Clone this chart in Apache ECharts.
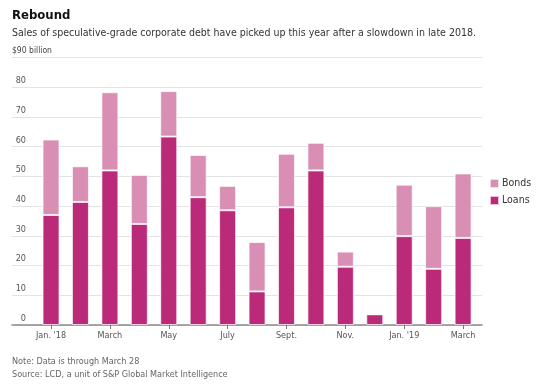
<!DOCTYPE html>
<html><head><meta charset="utf-8">
<script src="https://cdn.jsdelivr.net/npm/echarts@6/dist/echarts.min.js"></script>
<style>html,body{margin:0;padding:0;background:#fff}#c{width:550px;height:391px}</style>
</head><body><div id="c"></div>
<script>
const categories = ["Jan. '18","Feb","March","Apr","May","June","July","Aug","Sept.","Oct","Nov.","Dec","Jan. '19","Feb","March"];
const loans = [37, 41.4, 52, 34, 63.4, 43, 38.6, 11.3, 39.6, 52, 19.6, 3.6, 29.9, 18.9, 29.3];
const bonds = [25.4, 12, 26.3, 16.5, 15.3, 14.2, 8.2, 16.6, 18, 9.3, 5.1, 0, 17.3, 21.1, 21.7];
const yTicks = [0, 10, 20, 30, 40, 50, 60, 70, 80];
const labeledIdx = [0, 2, 4, 6, 8, 10, 12, 14];

const F = "'Liberation Sans Narrow','DejaVu Sans Condensed','Liberation Sans',sans-serif";
const chart = echarts.init(document.getElementById('c'), null, {renderer:'canvas'});
const gTop = 57.5, gBottom = 66;
chart.setOption({
  animation:false,
  title:[
    {text:'Rebound', left:12, top:9, padding:0, textStyle:{fontFamily:F, fontSize:13, fontWeight:'bold', color:'#111'}},
    {text:'Sales of speculative-grade corporate debt have picked up this year after a slowdown in late 2018.', left:12, top:28, padding:0, textStyle:{fontFamily:F, fontSize:10.5, fontWeight:'normal', color:'#333'}},
    {text:'Note: Data is through March 28', left:12, top:357, padding:0, textStyle:{fontFamily:F, fontSize:9, fontWeight:'normal', color:'#666'}},
    {text:'Source: LCD, a unit of S&P Global Market Intelligence', left:12, top:370, padding:0, textStyle:{fontFamily:F, fontSize:9, fontWeight:'normal', color:'#666'}}
  ],
  legend:{
    data:['Bonds','Loans'], orient:'vertical', left:484, top:173, itemWidth:9, itemHeight:9, itemGap:6,
    icon:'rect', textStyle:{fontFamily:F, fontSize:10.5, color:'#333', padding:[0,0,0,-2]}
  },
  grid:[
    {left:12, right:68, top:gTop, bottom:gBottom},
    {left:36.3, right:72.2, top:gTop, bottom:gBottom}
  ],
  xAxis:[
    {gridIndex:0, type:'value', min:0, max:1, axisLine:{show:true, lineStyle:{color:'#8a8a8a', width:1.5}}, axisTick:{show:false}, axisLabel:{show:false}, splitLine:{show:false}},
    {gridIndex:1, type:'category', data:categories, axisLine:{show:false},
     axisTick:{show:true, alignWithLabel:true, interval:(i)=>labeledIdx.includes(i), length:4, lineStyle:{color:'#777'}},
     axisLabel:{interval:(i)=>labeledIdx.includes(i), fontFamily:F, fontSize:9, color:'#555', margin:6}}
  ],
  yAxis:[
    {gridIndex:0, type:'value', min:0, max:90, interval:10, axisLine:{show:false}, axisTick:{show:false},
     name:'$90 billion', nameLocation:'end', nameGap:2,
     nameTextStyle:{fontFamily:F, fontSize:8.5, color:'#444', align:'left', verticalAlign:'bottom'},
     splitLine:{lineStyle:{color:'#e3e3e3', width:1}},
     axisLabel:{inside:false, fontFamily:F, fontSize:9, color:'#555', verticalAlign:'bottom', align:'right', margin:-14, padding:[0,0,2,0],
       formatter:(v)=> yTicks.includes(v)? String(v):''}},
    {gridIndex:1, type:'value', min:0, max:90, show:false}
  ],
  series:[
    {name:'Loans', type:'bar', stack:'s', xAxisIndex:1, yAxisIndex:1, data:loans, barWidth:17,
     itemStyle:{color:'#bb2a78', borderColor:'rgba(255,255,255,0.7)', borderWidth:1}},
    {name:'Bonds', type:'bar', stack:'s', xAxisIndex:1, yAxisIndex:1, data:bonds, barWidth:17,
     itemStyle:{color:'#d98fb4', borderColor:'rgba(255,255,255,0.7)', borderWidth:1}}
  ]
});
</script></body></html>
